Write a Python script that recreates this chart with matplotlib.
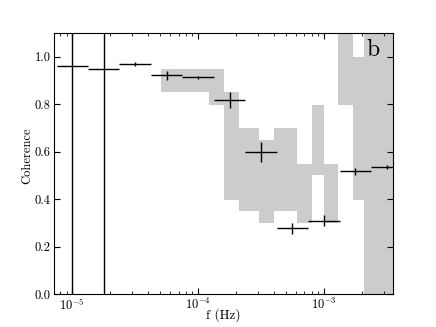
import matplotlib
matplotlib.use('Agg')
import matplotlib.pyplot as plt
import numpy as np

plt.rcParams['font.family'] = 'cmr10'
plt.rcParams['mathtext.fontset'] = 'cm'
plt.rcParams['axes.formatter.use_mathtext'] = True
plt.rcParams['axes.unicode_minus'] = False

# coherence points
freq = [1.0e-5, 1.78e-5, 3.16e-5, 5.62e-5, 1.0e-4, 1.78e-4, 3.16e-4,
        5.62e-4, 1.0e-3, 1.78e-3, 3.16e-3]
f_lo = [7.5e-6, 1.33e-5, 2.37e-5, 4.22e-5, 7.5e-5, 1.33e-4, 2.37e-4,
        4.22e-4, 7.5e-4, 1.33e-3, 2.37e-3]
f_hi = [1.33e-5, 2.37e-5, 4.22e-5, 7.5e-5, 1.33e-4, 2.37e-4, 4.22e-4,
        7.5e-4, 1.33e-3, 2.37e-3, 4.22e-3]
coh = [0.962, 0.947, 0.971, 0.921, 0.913, 0.818, 0.598, 0.276, 0.309, 0.517, 0.535]
coh_err = [1.5, 1.5, 0.008, 0.02, 0.007, 0.034, 0.042, 0.025, 0.022, 0.016, 0.01]

# grey band (step edges, lower and upper limits)
band_edges = [5.09e-5, 1.22e-4, 1.60e-4, 2.12e-4, 3.03e-4, 4.03e-4, 6.07e-4,
              8.04e-4, 1.0e-3, 1.30e-3, 1.69e-3, 2.09e-3, 4.0e-3]
band_lo = [0.85, 0.798, 0.398, 0.349, 0.30, 0.349, 0.30, 0.50, 0.30, 0.798, 0.398, -0.1]
band_hi = [0.948, 0.948, 0.85, 0.699, 0.65, 0.699, 0.549, 0.798, 0.549, 1.3, 1.0, 1.3]

fig = plt.figure(figsize=(4.36, 3.27), dpi=100)
ax = fig.add_axes([0.124, 0.101, 0.7767, 0.798])

ax.fill_between(band_edges, band_lo + [band_lo[-1]], band_hi + [band_hi[-1]],
                step='post', color='#cccccc', lw=0)

xerr = [np.array(freq) - np.array(f_lo), np.array(f_hi) - np.array(freq)]
ax.errorbar(freq, coh, yerr=coh_err, xerr=xerr, fmt='none', ecolor='k',
            elinewidth=1.0, capsize=0)

ax.set_xscale('log')
ax.set_xlim(7.16e-6, 3.52e-3)
ax.set_ylim(0, 1.1)
ax.set_yticks([0.0, 0.2, 0.4, 0.6, 0.8, 1.0])
ax.set_yticklabels(['0.0', '0.2', '0.4', '0.6', '0.8', '1.0'])
ax.tick_params(which='both', direction='in', top=True, right=True, labelsize=9)
ax.tick_params(which='major', length=4)
ax.tick_params(which='minor', length=2)
ax.tick_params(axis='x', pad=2)
ax.tick_params(axis='y', pad=2.5)

ax.set_xlabel('f (Hz)', fontsize=9.5, labelpad=-3)
ax.set_ylabel('Coherence', fontsize=9)
ax.yaxis.set_label_coords(-0.062, 0.53)
ax.text(0.942, 0.935, 'b', transform=ax.transAxes, fontsize=17,
        ha='center', va='center')

fig.savefig('out.png', dpi=100)
